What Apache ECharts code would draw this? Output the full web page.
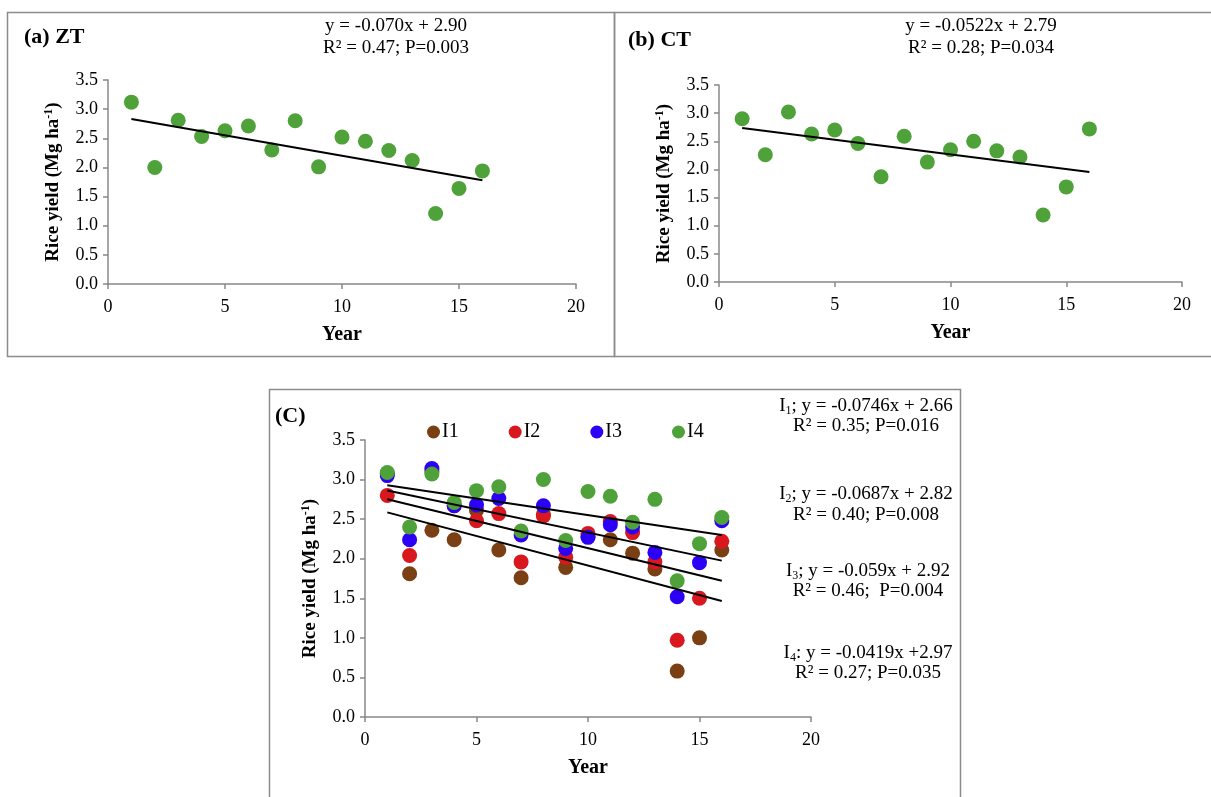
<!DOCTYPE html>
<html>
<head>
<meta charset="utf-8">
<script src="https://cdn.jsdelivr.net/npm/echarts@6/dist/echarts.min.js"></script>
<style>
html,body{margin:0;padding:0;background:#fff;}
#chart{width:1211px;height:797px;}
</style>
</head>
<body>
<div id="chart"></div>
<script>
// ---- data ----
const years = [1,2,3,4,5,6,7,8,9,10,11,12,13,14,15,16];
const ztYield = [3.12,2.00,2.81,2.53,2.63,2.71,2.30,2.80,2.01,2.52,2.45,2.29,2.12,1.21,1.64,1.94];
const ctYield = [2.90,2.26,3.02,2.63,2.70,2.46,1.87,2.59,2.13,2.35,2.50,2.33,2.22,1.19,1.69,2.72];
const i1Yield = [3.08,1.81,2.36,2.24,2.61,2.11,1.76,2.56,1.89,2.28,2.24,2.07,1.87,0.58,1.00,2.11];
const i2Yield = [2.80,2.04,3.10,2.67,2.48,2.57,1.96,2.54,2.02,2.32,2.47,2.33,1.96,0.97,1.50,2.22];
const i3Yield = [3.05,2.24,3.14,2.67,2.68,2.76,2.30,2.67,2.13,2.27,2.43,2.40,2.08,1.52,1.95,2.48];
const i4Yield = [3.09,2.40,3.07,2.71,2.86,2.91,2.35,3.00,2.23,2.85,2.79,2.46,2.75,1.72,2.19,2.52];
// fitted trend lines (slope, intercept) as printed on the figure
const ztFit = [-0.070, 2.90];
const ctFit = [-0.0522, 2.79];
const i1Fit = [-0.0746, 2.66];
const i2Fit = [-0.0687, 2.82];
const i3Fit = [-0.059, 2.92];
const i4Fit = [-0.0419, 2.97];
const xTicks = [0,5,10,15,20];
const yTicks = [0.0,0.5,1.0,1.5,2.0,2.5,3.0,3.5];
const seriesNames = ['I1','I2','I3','I4'];
const panelTitles = ['(a) ZT','(b) CT','(C)'];
const ztEq = ['y = -0.070x + 2.90','R² = 0.47; P=0.003'];
const ctEq = ['y = -0.0522x + 2.79','R² = 0.28; P=0.034'];
const cEq = [
  ['{n|I}{sub|1}{n|; y = -0.0746x + 2.66}','{n|R² = 0.35; P=0.016}'],
  ['{n|I}{sub|2}{n|; y = -0.0687x + 2.82}','{n|R² = 0.40; P=0.008}'],
  ['{n|I}{sub|3}{n|; y = -0.059x + 2.92}','{n|R² = 0.46;  P=0.004}'],
  ['{n|I}{sub|4}{n|: y = -0.0419x +2.97}','{n|R² = 0.27; P=0.035}']
];

// ---- styles ----
const FONT = 'Liberation Serif';
const GREEN = '#4fa13a', BROWN = '#7a3f12', RED = '#d8171e', BLUE = '#2b00f5';
const AXIS = '#888888';

function fitLine(fit){ const x0 = years[0], x1 = years[years.length-1];
  return [[x0, fit[0]*x0+fit[1]],[x1, fit[0]*x1+fit[1]]]; }
function pts(ys){ return years.map((x,i)=>[x, ys[i]]); }

function xAx(idx){
  return {gridIndex: idx, type:'value', min: xTicks[0], max: xTicks[xTicks.length-1], interval: 5,
    name:'Year', nameLocation:'middle', nameGap: 41,
    nameTextStyle:{fontFamily:FONT, fontWeight:'bold', fontSize:20, color:'#000'},
    axisLine:{show:true, onZero:false, lineStyle:{color:AXIS, width:1.5}},
    axisTick:{show:true, inside:false, length:5, lineStyle:{color:AXIS, width:1.5}},
    axisLabel:{fontFamily:FONT, fontSize:18, color:'#000', margin:14},
    splitLine:{show:false}};
}
function yAx(idx, gap){
  return {gridIndex: idx, type:'value', min: yTicks[0], max: yTicks[yTicks.length-1], interval: 0.5,
    name:'{b|Rice yield (Mg ha}{s|-1}{b|)}', nameLocation:'middle', nameGap: gap, nameRotate: 90,
    nameTextStyle:{rich:{
      b:{fontFamily:FONT, fontWeight:'bold', fontSize:19, color:'#000'},
      s:{fontFamily:FONT, fontWeight:'bold', fontSize:12, color:'#000', padding:[0,0,9,0]}}},
    axisLine:{show:true, onZero:false, lineStyle:{color:AXIS, width:1.5}},
    axisTick:{show:true, inside:false, length:5, lineStyle:{color:AXIS, width:1.5}},
    axisLabel:{fontFamily:FONT, fontSize:18, color:'#000', margin:10, formatter: v => v.toFixed(1)},
    splitLine:{show:false}};
}
function scat(name, data, color, idx, z){
  return {name, type:'scatter', xAxisIndex:idx, yAxisIndex:idx, data, symbol:'circle', symbolSize:15,
    itemStyle:{color, opacity:1}, z, silent:true};
}
function trend(data, idx){
  return {type:'line', xAxisIndex:idx, yAxisIndex:idx, data, symbol:'none',
    lineStyle:{color:'#000', width:2}, z:10, silent:true};
}
function txt(x, y, t, size, bold, align){
  return {type:'text', x, y, style:{text:t, fontFamily:FONT, fontSize:size, fontWeight: bold?'bold':'normal',
    fill:'#000', textAlign: align||'left', textVerticalAlign:'middle'}};
}
function rtxt(x, y, t){
  return {type:'text', x, y, style:{text:t, textAlign:'center', textVerticalAlign:'middle',
    rich:{n:{fontFamily:FONT, fontSize:19, fill:'#000', color:'#000'},
          sub:{fontFamily:FONT, fontSize:12, fill:'#000', color:'#000', padding:[10,0,0,0]}}}};
}

const chart = echarts.init(document.getElementById('chart'), null, {renderer:'canvas'});
const border = {stroke:'#8c8c8c', lineWidth:1.5, fill:'none'};
const option = {
  animation:false,
  backgroundColor:'#fff',
  grid:[
    {left:108, top:80, width:468, height:204},
    {left:719, top:85, width:463, height:197},
    {left:365, top:440, width:446, height:277}
  ],
  xAxis:[xAx(0), xAx(1), xAx(2)],
  yAxis:[yAx(0,44), yAx(1,44), yAx(2,44)],
  legend:{data:seriesNames, left:422, top:417, itemWidth:13, itemHeight:13, itemGap:50, icon:'circle',
    textStyle:{fontFamily:FONT, fontSize:20, color:'#000', padding:[0,0,0,-3]}},
  series:[
    scat('ZT', pts(ztYield), GREEN, 0, 2),
    trend(fitLine(ztFit), 0),
    scat('CT', pts(ctYield), GREEN, 1, 2),
    trend(fitLine(ctFit), 1),
    scat(seriesNames[0], pts(i1Yield), BROWN, 2, 2),
    scat(seriesNames[1], pts(i2Yield), RED, 2, 3),
    scat(seriesNames[2], pts(i3Yield), BLUE, 2, 4),
    scat(seriesNames[3], pts(i4Yield), GREEN, 2, 5),
    trend(fitLine(i1Fit), 2),
    trend(fitLine(i2Fit), 2),
    trend(fitLine(i3Fit), 2),
    trend(fitLine(i4Fit), 2)
  ],
  graphic:[
    {type:'rect', shape:{x:7.5, y:12.5, width:607, height:344}, style:border, silent:true},
    {type:'rect', shape:{x:614.5, y:12.5, width:610, height:344}, style:border, silent:true},
    {type:'polyline', shape:{points:[[269.5,800],[269.5,389.5],[960.5,389.5],[960.5,800]]}, style:border, silent:true},
    txt(24, 37, panelTitles[0], 22, true),
    txt(628, 40, panelTitles[1], 22, true),
    txt(275, 416, panelTitles[2], 22, true),
    txt(396, 26, ztEq[0], 19, false, 'center'),
    txt(396, 48, ztEq[1], 19, false, 'center'),
    txt(981, 26, ctEq[0], 19, false, 'center'),
    txt(981, 48, ctEq[1], 19, false, 'center'),
    rtxt(866, 406, cEq[0][0]), rtxt(866, 426, cEq[0][1]),
    rtxt(866, 494, cEq[1][0]), rtxt(866, 515, cEq[1][1]),
    rtxt(868, 571, cEq[2][0]), rtxt(868, 591, cEq[2][1]),
    rtxt(868, 653, cEq[3][0]), rtxt(868, 673, cEq[3][1])
  ]
};
chart.setOption(option);
</script>
</body>
</html>
